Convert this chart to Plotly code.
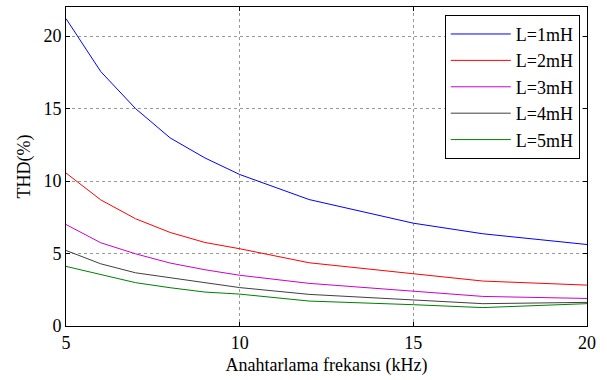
import plotly.graph_objects as go

freq = [5, 6, 7, 8, 9, 10, 12, 15, 17, 20]
thd_1mH = [21.2, 17.55, 15.0, 12.97, 11.59, 10.45, 8.72, 7.09, 6.36, 5.62]
thd_2mH = [10.55, 8.7, 7.4, 6.45, 5.76, 5.33, 4.36, 3.58, 3.1, 2.82]
thd_3mH = [7.0, 5.74, 4.98, 4.34, 3.88, 3.5, 2.94, 2.39, 2.04, 1.9]
thd_4mH = [5.21, 4.29, 3.67, 3.33, 2.99, 2.65, 2.18, 1.81, 1.54, 1.63]
thd_5mH = [4.11, 3.54, 2.99, 2.64, 2.34, 2.2, 1.72, 1.47, 1.27, 1.54]

series = [
    ("L=1mH", thd_1mH, "#0000ff"),
    ("L=2mH", thd_2mH, "#ff0000"),
    ("L=3mH", thd_3mH, "#cc00cc"),
    ("L=4mH", thd_4mH, "#404040"),
    ("L=5mH", thd_5mH, "#008000"),
]

fig = go.Figure()
for name, vals, col in series:
    fig.add_trace(go.Scatter(x=freq, y=vals, mode="lines", name=name,
                             line=dict(color=col, width=1)))

font = "Liberation Serif"
axis_common = dict(
    showline=True, linecolor="black", linewidth=1, mirror="ticks",
    ticks="inside", ticklen=4, tickcolor="black",
    showgrid=True, gridcolor="#999999", griddash="dot", gridwidth=1,
    zeroline=False, tickfont=dict(family=font, size=18, color="black"),
)
fig.update_xaxes(range=[5, 20], tickvals=[5, 10, 15, 20],
                 title=dict(text="Anahtarlama frekansı (kHz)", standoff=6,
                            font=dict(family=font, size=18, color="black")),
                 **axis_common)
fig.update_yaxes(range=[0, 22], tickvals=[0, 5, 10, 15, 20],
                 title=dict(text="THD(%)", standoff=8,
                            font=dict(family=font, size=18, color="black")),
                 **axis_common)

fig.update_layout(
    width=607, height=380,
    margin=dict(l=66, r=20, t=7, b=54),
    paper_bgcolor="white", plot_bgcolor="white",
    legend=dict(x=0.727, y=0.9756, xanchor="left", yanchor="top",
                bordercolor="black", borderwidth=1, bgcolor="white",
                font=dict(family=font, size=18, color="black"),
                itemwidth=60, tracegroupgap=0),
)

fig.write_html("out.html", config={"displayModeBar": False},
               post_script="document.body.style.margin='0';document.body.style.overflow='hidden';")
